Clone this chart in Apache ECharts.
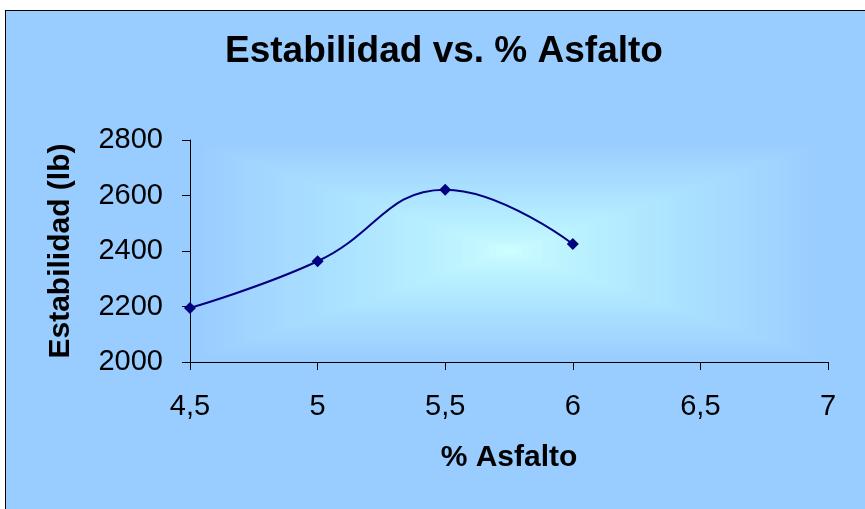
<!DOCTYPE html>
<html>
<head>
<meta charset="utf-8">
<script src="https://cdn.jsdelivr.net/npm/echarts@6/dist/echarts.min.js"></script>
<style>
  html, body { margin: 0; padding: 0; background: #ffffff; }
  #chart {
    position: absolute; left: 5px; top: 10px;
    width: 860px; height: 499px;
    box-sizing: border-box;
    border-left: 1px solid #000; border-top: 1px solid #000;
    background: #99CCFF;
  }
</style>
</head>
<body>
<div id="chart"></div>
<script>
// Asphalt content (%) and measured Marshall stability (lb)
var asfalto = [4.5, 5.0, 5.5, 6.0];
var estabilidad = [2195, 2363, 2621, 2425];

// Axis ranges / tick spacing
var xMin = 4.5, xMax = 7, xStep = 0.5;
var yMin = 2000, yMax = 2800, yStep = 200;

var titulo = 'Estabilidad vs. % Asfalto';
var nombreX = '% Asfalto';
var nombreY = 'Estabilidad (lb)';

// Plot area layout (px within the chart canvas)
var G = { left: 184, top: 129, width: 638, height: 222 };
var W = 859, H = 498;

// Rectangular "from centre" fill of the plot area: nested rectangles of the
// light colour, each alpha chosen so the blend falls off linearly to the edge.
function centreFill(n) {
  var cx = G.left + G.width / 2, cy = G.top + G.height / 2;
  var els = [];
  for (var k = 1; k <= n; k++) {
    var s = (n - k + 1) / n;
    var w = G.width * s, h = G.height * s;
    els.push({
      type: 'rect', silent: true, z: 0,
      shape: { x: cx - w / 2, y: cy - h / 2, width: w, height: h },
      style: { fill: 'rgba(204,255,255,' + (1 / (n - k + 1)).toFixed(4) + ')' }
    });
  }
  return els;
}

var chart = echarts.init(document.getElementById('chart'));
var font = '"Liberation Sans", Arial, sans-serif';

chart.setOption({
  backgroundColor: '#99CCFF',
  animation: false,
  title: {
    text: titulo,
    left: 219, top: 22, padding: 0,
    textStyle: { fontFamily: font, fontSize: 37, fontWeight: 'bold', color: '#000' }
  },
  grid: {
    left: G.left, top: G.top,
    right: W - G.left - G.width, bottom: H - G.top - G.height,
    show: true, borderWidth: 0, backgroundColor: '#99CCFF'
  },
  graphic: centreFill(48),
  xAxis: {
    type: 'value', min: xMin, max: xMax, interval: xStep, z: 5,
    name: nombreX, nameLocation: 'middle', nameGap: 81,
    nameTextStyle: { fontFamily: font, fontSize: 30, fontWeight: 'bold', color: '#000' },
    axisLine: { show: true, lineStyle: { color: '#000', width: 1 } },
    axisTick: { show: true, length: 8, lineStyle: { color: '#000' } },
    splitLine: { show: false },
    axisLabel: {
      margin: 30, fontFamily: font, fontSize: 29, color: '#000',
      formatter: function (v) { return String(v).replace('.', ','); }
    }
  },
  yAxis: {
    type: 'value', min: yMin, max: yMax, interval: yStep, z: 5,
    name: nombreY, nameLocation: 'middle', nameGap: 114,
    nameTextStyle: { fontFamily: font, fontSize: 30, fontWeight: 'bold', color: '#000' },
    axisLine: { show: true, lineStyle: { color: '#000', width: 1 } },
    axisTick: { show: true, length: 8, lineStyle: { color: '#000' } },
    splitLine: { show: false },
    axisLabel: {
      margin: 27, fontFamily: font, fontSize: 29, color: '#000',
      formatter: function (v) { return String(v); }
    }
  },
  series: [{
    type: 'line',
    data: asfalto.map(function (x, i) { return [x, estabilidad[i]]; }),
    smooth: 0.45,
    symbol: 'diamond', symbolSize: 12,
    lineStyle: { color: '#000080', width: 2 },
    itemStyle: { color: '#000080' },
    z: 6
  }]
});
</script>
</body>
</html>
